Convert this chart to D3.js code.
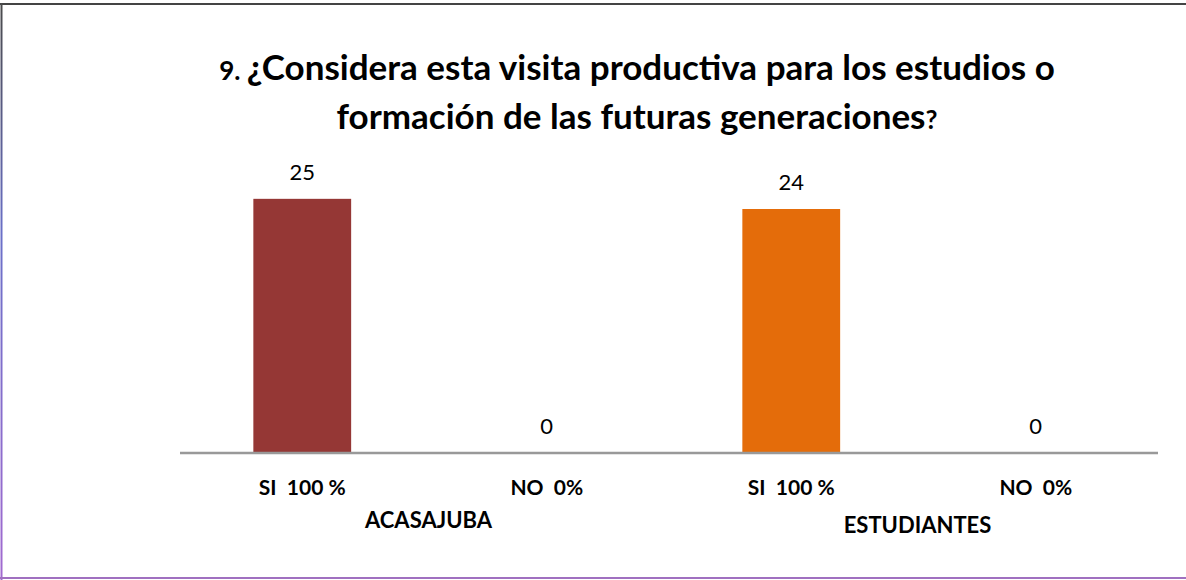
<!DOCTYPE html>
<html>
<head>
<meta charset="utf-8">
<script src="https://cdn.jsdelivr.net/npm/d3@7"></script>
<style>
  body { margin: 0; background: #fff; }
  svg { display: block; font-family: Lato, "Open Sans", sans-serif; }
</style>
</head>
<body>
<svg id="chart" width="1186" height="580"></svg>
<script>
// Chart data
const categories = ['SI  100 %', 'NO  0%', 'SI  100 %', 'NO  0%'];
const values = [25, 0, 24, 0];
const barColors = ['#953735', '#953735', '#e46c0a', '#e46c0a'];
const groups = ['ACASAJUBA', 'ESTUDIANTES'];
const titleLines = [
    [['9. ', 26], ['¿Considera esta visita productiva para los estudios o', 35]],
    [['formación de las futuras generaciones', 35], ['?', 26]]
];

const svg = d3.select('#chart');
const W = 1186, H = 580;

// frame (top dark, left gradient, bottom purple)
const defs = svg.append('defs');
const grad = defs.append('linearGradient')
    .attr('id', 'leftGrad').attr('x1', 0).attr('y1', 0).attr('x2', 0).attr('y2', 1);
grad.append('stop').attr('offset', '0%').attr('stop-color', '#4a4a4a');
grad.append('stop').attr('offset', '40%').attr('stop-color', '#6a70c8');
grad.append('stop').attr('offset', '100%').attr('stop-color', '#a26ad0');

svg.append('rect').attr('x', 0).attr('y', 0).attr('width', W).attr('height', H).attr('fill', '#fff');
svg.append('line').attr('x1', 0).attr('x2', W).attr('y1', 4).attr('y2', 4)
    .attr('stroke', '#444').attr('stroke-width', 2);
svg.append('rect').attr('x', 0.5).attr('y', 3).attr('width', 2).attr('height', H - 3)
    .attr('fill', 'url(#leftGrad)');
svg.append('line').attr('x1', 0).attr('x2', W).attr('y1', 578).attr('y2', 578)
    .attr('stroke', '#a070c0').attr('stroke-width', 2);

// title
const title = svg.append('text')
    .attr('text-anchor', 'middle')
    .attr('font-weight', 'bold')
    .attr('fill', '#000');
titleLines.forEach((parts, i) => {
    const line = title.append('tspan').attr('x', 637).attr('y', 80 + i * 49);
    parts.forEach(([txt, size]) => {
        line.append('tspan').attr('font-size', size).text(txt);
    });
});

// scales
const x = d3.scaleBand()
    .domain(d3.range(categories.length))
    .range([180, 1158])
    .paddingInner(0.6)
    .paddingOuter(0.3);

const y = d3.scaleLinear()
    .domain([0, 30])
    .range([453, 148]);

// bars
svg.selectAll('.bar')
    .data(values)
    .enter().append('rect')
    .attr('class', 'bar')
    .attr('x', (d, i) => x(i))
    .attr('width', x.bandwidth())
    .attr('y', d => y(d))
    .attr('height', d => y(0) - y(d))
    .attr('fill', (d, i) => barColors[i]);

// value labels
svg.selectAll('.val')
    .data(values)
    .enter().append('text')
    .attr('class', 'val')
    .attr('text-anchor', 'middle')
    .attr('x', (d, i) => x(i) + x.bandwidth() / 2)
    .attr('y', d => y(d) - 19)
    .attr('font-size', 22)
    .attr('fill', '#000')
    .text(d => d);

// axis
const xAxis = d3.axisBottom(x).tickSize(0).tickFormat(i => categories[i]);
const gx = svg.append('g')
    .attr('transform', 'translate(0,' + y(0) + ')')
    .call(xAxis);
gx.select('.domain').attr('stroke', '#999').attr('stroke-width', 2.5).attr('d', 'M180,0H1158');
gx.selectAll('text')
    .attr('font-family', 'Lato, sans-serif')
    .attr('font-size', 21)
    .attr('font-weight', 'bold')
    .attr('fill', '#000')
    .attr('dy', '1.85em')
    .style('white-space', 'pre');

// group labels
groups.forEach((g, k) => {
    const cx = (x(k * 2) + x(k * 2 + 1) + x.bandwidth()) / 2;
    svg.append('text')
        .attr('text-anchor', 'middle')
        .attr('x', cx + 4)
        .attr('y', 528 + k * 5)
        .attr('font-size', 22)
        .attr('font-weight', 'bold')
        .attr('fill', '#000')
        .text(g);
});
</script>
</body>
</html>
